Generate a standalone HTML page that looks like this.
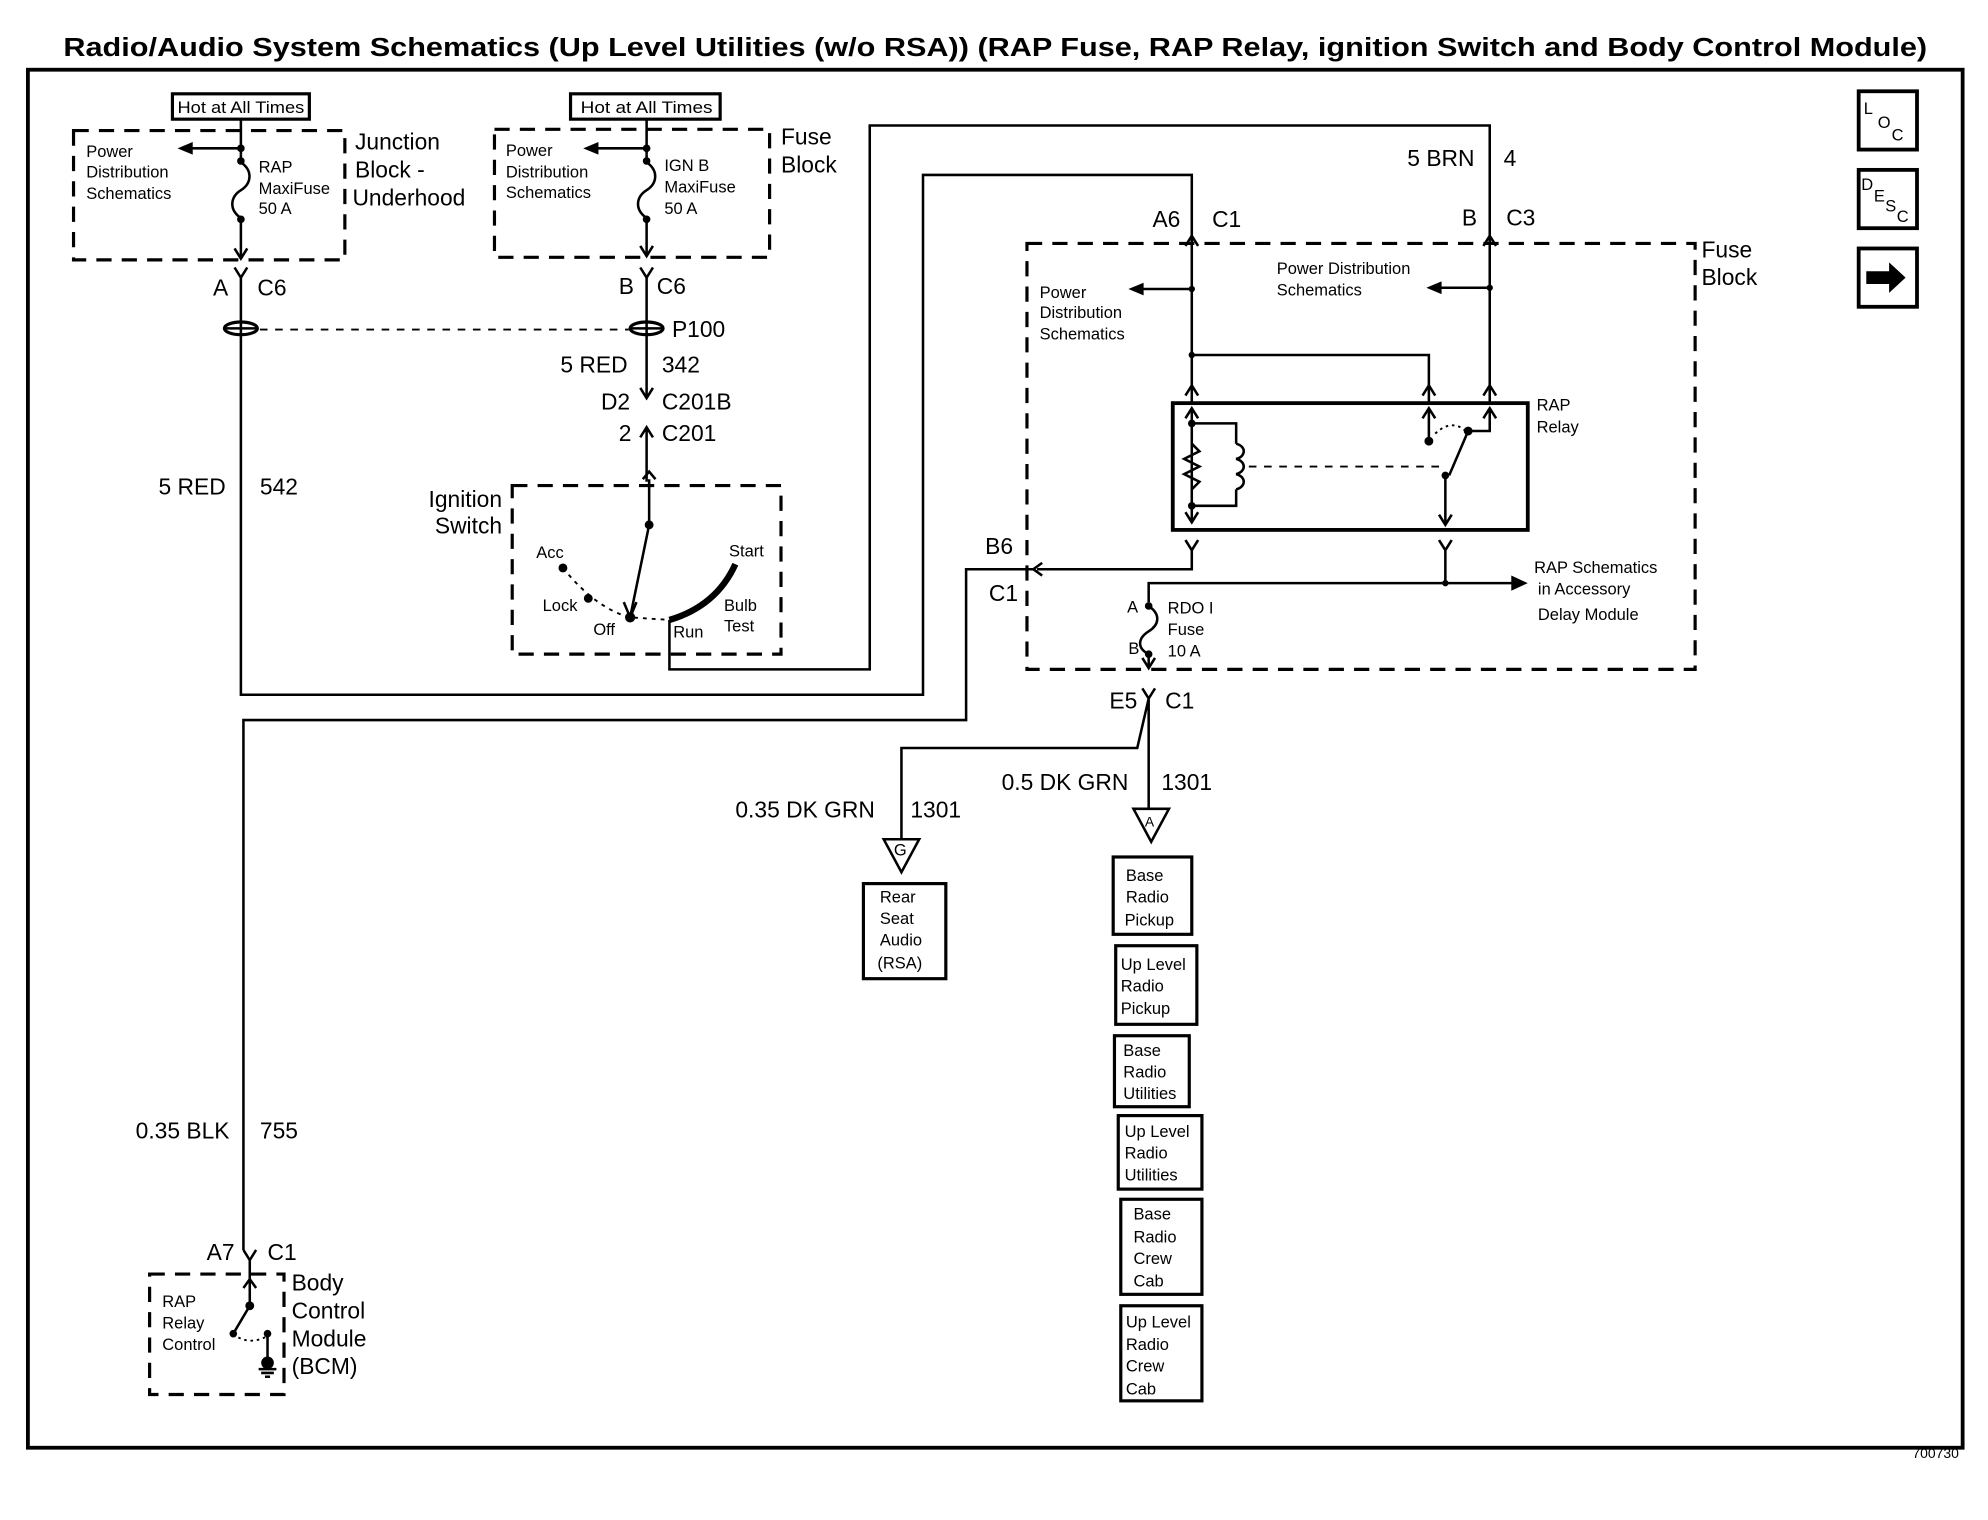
<!DOCTYPE html>
<html><head><meta charset="utf-8"><style>
html,body{margin:0;padding:0;background:#fff;}
svg{display:block;}
text{font-family:"Liberation Sans",Arial,sans-serif;fill:#000;}
.s{font-size:13px;}
.m{font-size:18px;}
.l{font-size:19px;}
</style></head><body>
<svg width="1988" height="1520" viewBox="0 0 1568 1199" preserveAspectRatio="none" xmlns="http://www.w3.org/2000/svg">
<g fill="none" stroke="#000" stroke-width="2">
<!-- frame -->
<rect x="22" y="55" width="1526" height="1087" stroke-width="3"/>
<!-- dashed boxes -->
<g stroke-dasharray="12,8" stroke-width="2.5">
<rect x="58" y="103" width="214" height="102"/>
<rect x="390" y="102" width="217" height="101"/>
<rect x="404" y="383" width="212" height="133"/>
<rect x="810" y="192" width="527" height="336"/>
<rect x="118" y="1005" width="106" height="95"/>
</g>
<!-- hot boxes -->
<rect x="136" y="74" width="108" height="20" stroke-width="2.5"/>
<rect x="450" y="74" width="118" height="20" stroke-width="2.5"/>
<!-- left fuse wiring -->
<path d="M190 94 V122 M190 117 H150"/>
<path d="M190 122 V128 C200 135 198 145 190 150 C182 155 180 165 190 172 V203"/>
<path d="M185 196 L190 204 L195 196"/>
<path d="M510 94 V122 M510 117 H470"/>
<path d="M510 122 V128 C520 135 518 145 510 150 C502 155 500 165 510 172 V201"/>
<path d="M505 194 L510 202 L515 194"/>
<!-- connectors C6 -->
<path d="M185 211 L190 219 L195 211 M190 219 V548 H728 V138 H940 V186"/>
<path d="M505 211 L510 219 L515 211 M510 219 V313"/>
<!-- splices -->
<ellipse cx="190" cy="259" rx="13" ry="5" stroke-width="2.5"/>
<path d="M178 259 H202" />
<ellipse cx="510" cy="259" rx="13" ry="5" stroke-width="2.5"/>
<path d="M498 259 H522"/>
<path d="M205 260 H496" stroke-dasharray="6,6" stroke-width="1.5"/>
<!-- C201 -->
<path d="M505 306 L510 314 L515 306 M505 345 L510 337 L515 345 M510 337 V380"/>
<path d="M507 378 L512 372 L517 378 M512 378 V414 L497 487"/>
<path d="M492 475 L497 487 L502 475" />
<path d="M444 448 Q470 480 497 487 L528 489" stroke-dasharray="3,4" stroke-width="1.5"/>
<path d="M528 489 Q565 478 580 445" stroke-width="5"/>
<path d="M528 489 V528 H686 V99 H1175 V186"/>
<!-- Fuse block internals -->
<path d="M935 194 L940 186 L945 194 M1170 194 L1175 186 L1180 194"/>
<path d="M940 186 V318 M940 228 H900 M1175 186 V318 M1175 227 H1135"/>
<path d="M940 280 H1127 V318"/>
<path d="M935 312 L940 304 L945 312 M1122 312 L1127 304 L1132 312 M1170 312 L1175 304 L1180 312"/>
<rect x="925" y="318" width="280" height="100" stroke-width="3"/>
<path d="M935 330 L940 322 L945 330 M1122 330 L1127 322 L1132 330 M1170 330 L1175 322 L1180 330"/>
<path d="M940 322 V412 M940 334 H975 V350 M975 386 V399 H940"/>
<path d="M940 350 L946 356 L934 362 L946 368 L934 374 L946 380 L940 386"/>
<path d="M975 350 C983 352 983 360 975 362 C983 364 983 372 975 374 C983 376 983 384 975 386"/>
<path d="M935 404 L940 412 L945 404"/>
<path d="M985 368 H1138" stroke-dasharray="6,6" stroke-width="1.5"/>
<path d="M1127 322 V348 M1175 322 V340 H1158 M1158 340 L1143 375 M1140 375 V414"/>
<path d="M1135 406 L1140 414 L1145 406"/>
<path d="M1132 342 Q1145 330 1156 340" stroke-dasharray="2,3" stroke-width="1.5"/>
<path d="M935 426 L940 434 L945 426 M940 434 V449 H818"/>
<path d="M1135 426 L1140 434 L1145 426 M1140 434 V460"/>
<path d="M906 475 V460 H1195"/>
<path d="M906 478 C916 485 914 493 906 498 C898 503 896 511 906 516 V526 M901 519 L906 527 L911 519"/>
<path d="M822 444 L815 449 L822 454 M815 449 H762 V568 H192 V986"/>
<!-- E5 -->
<path d="M901 543 L906 551 L911 543 M906 551 V638 M906 551 L897 590 H711 V662"/>
<path d="M697 662 H725 L711 688 Z" stroke-width="2"/>
<path d="M894 638 H922 L908 664 Z" stroke-width="2"/>
<!-- destination boxes -->
<g stroke-width="2.5">
<rect x="681" y="697" width="65" height="75"/>
<rect x="878" y="676" width="62" height="61"/>
<rect x="880" y="746" width="64" height="62"/>
<rect x="879" y="817" width="59" height="56"/>
<rect x="882" y="880" width="66" height="58"/>
<rect x="884" y="946" width="64" height="75"/>
<rect x="884" y="1030" width="64" height="75"/>
</g>
<!-- BCM -->
<path d="M192 986 L197 994 L202 986 M197 994 V1010 M192 1016 L197 1009 L202 1016 M197 1009 V1030 L184 1052"/>
<path d="M184 1052 Q195 1062 211 1054" stroke-dasharray="2,3" stroke-width="1.5"/>
<path d="M211 1052 V1072 M204 1080 H218 M206 1083 H216 M209 1086 H213"/>
<!-- icons -->
<rect x="1466" y="72" width="46" height="46" stroke-width="3"/>
<rect x="1466" y="134" width="46" height="46" stroke-width="3"/>
<rect x="1466" y="196" width="46" height="46" stroke-width="3"/>
</g>
<g fill="#000">
<path d="M140 117 L152 112 L152 122 Z"/>
<path d="M460 117 L472 112 L472 122 Z"/>
<path d="M890 228 L902 223 L902 233 Z"/>
<path d="M1125 227 L1137 222 L1137 232 Z"/>
<path d="M1205 460 L1192 454 L1192 466 Z"/>
<circle cx="190" cy="117" r="3"/><circle cx="190" cy="127" r="3"/><circle cx="190" cy="173" r="3"/>
<circle cx="510" cy="117" r="3"/><circle cx="510" cy="127" r="3"/><circle cx="510" cy="173" r="3"/>
<circle cx="512" cy="414" r="3.5"/><circle cx="497" cy="487" r="4"/><circle cx="444" cy="448" r="3.5"/><circle cx="464" cy="472" r="3.5"/>
<circle cx="940" cy="228" r="2.5"/><circle cx="1175" cy="227" r="2.5"/><circle cx="940" cy="280" r="2.5"/>
<circle cx="940" cy="334" r="3"/><circle cx="940" cy="399" r="3"/><circle cx="1127" cy="348" r="3.5"/><circle cx="1158" cy="340" r="3.5"/><circle cx="1140" cy="375" r="3"/><circle cx="1140" cy="460" r="2.5"/>
<circle cx="906" cy="478" r="3"/><circle cx="906" cy="516" r="3"/>
<circle cx="197" cy="1030" r="3.5"/><circle cx="184" cy="1052" r="3"/><circle cx="211" cy="1052" r="3"/><circle cx="211" cy="1075" r="5"/>
<path d="M1472 214 H1490 V207 L1503 219 L1490 231 V224 H1472 Z"/>
</g>
<text x="50" y="44" style="font-size:20.5px;font-weight:bold" textLength="1470" lengthAdjust="spacingAndGlyphs">Radio/Audio System Schematics (Up Level Utilities (w/o RSA)) (RAP Fuse, RAP Relay, ignition Switch and Body Control Module)</text>
<text x="1545" y="1150" style="font-size:11px" text-anchor="end">700730</text>
<text x="140" y="89" class="s" textLength="100" lengthAdjust="spacingAndGlyphs">Hot at All Times</text>
<text x="458" y="89" class="s" textLength="104" lengthAdjust="spacingAndGlyphs">Hot at All Times</text>
<g class="s">
<text x="68" y="124">Power</text><text x="68" y="140">Distribution</text><text x="68" y="157">Schematics</text>
<text x="204" y="136">RAP</text><text x="204" y="153">MaxiFuse</text><text x="204" y="169">50 A</text>
<text x="399" y="123">Power</text><text x="399" y="140">Distribution</text><text x="399" y="156">Schematics</text>
<text x="524" y="135">IGN B</text><text x="524" y="152">MaxiFuse</text><text x="524" y="169">50 A</text>
<text x="423" y="440">Acc</text><text x="428" y="482">Lock</text><text x="468" y="501">Off</text><text x="531" y="503">Run</text>
<text x="575" y="439">Start</text><text x="571" y="482">Bulb</text><text x="571" y="498">Test</text>
<text x="820" y="235">Power</text><text x="820" y="251">Distribution</text><text x="820" y="268">Schematics</text>
<text x="1007" y="216">Power Distribution</text><text x="1007" y="233">Schematics</text>
<text x="1212" y="324">RAP</text><text x="1212" y="341">Relay</text>
<text x="1210" y="452">RAP Schematics</text><text x="1213" y="469">in Accessory</text><text x="1213" y="489">Delay  Module</text>
<text x="889" y="483">A</text><text x="890" y="516">B</text>
<text x="921" y="484">RDO I</text><text x="921" y="501">Fuse</text><text x="921" y="518">10 A</text>
<text x="694" y="712">Rear</text><text x="694" y="729">Seat</text><text x="694" y="746">Audio</text><text x="692" y="764">(RSA)</text>
<text x="888" y="695">Base</text><text x="888" y="712">Radio</text><text x="887" y="730">Pickup</text>
<text x="884" y="765">Up Level</text><text x="884" y="782">Radio</text><text x="884" y="800">Pickup</text>
<text x="886" y="833">Base</text><text x="886" y="850">Radio</text><text x="886" y="867">Utilities</text>
<text x="887" y="897">Up Level</text><text x="887" y="914">Radio</text><text x="887" y="931">Utilities</text>
<text x="894" y="962">Base</text><text x="894" y="980">Radio</text><text x="894" y="997">Crew</text><text x="894" y="1015">Cab</text>
<text x="888" y="1047">Up Level</text><text x="888" y="1065">Radio</text><text x="888" y="1082">Crew</text><text x="888" y="1100">Cab</text>
<text x="128" y="1031">RAP</text><text x="128" y="1048">Relay</text><text x="128" y="1065">Control</text>
<text x="705" y="675">G</text><text x="903" y="652" style="font-size:11px">A</text>
</g>
<g class="m">
<text x="280" y="118">Junction</text><text x="280" y="140">Block -</text><text x="278" y="162">Underhood</text>
<text x="616" y="114">Fuse</text><text x="616" y="136">Block</text>
<text x="1342" y="203">Fuse</text><text x="1342" y="225">Block</text>
<text x="396" y="400" text-anchor="end">Ignition</text><text x="396" y="421" text-anchor="end">Switch</text>
<text x="230" y="1018">Body</text><text x="230" y="1040">Control</text><text x="230" y="1062">Module</text><text x="230" y="1084">(BCM)</text>
</g>
<g class="m">
<text x="168" y="233">A</text><text x="203" y="233">C6</text>
<text x="488" y="232">B</text><text x="518" y="232">C6</text>
<text x="530" y="266">P100</text>
<text x="442" y="294">5 RED</text><text x="522" y="294">342</text>
<text x="474" y="323">D2</text><text x="522" y="323">C201B</text>
<text x="488" y="348">2</text><text x="522" y="348">C201</text>
<text x="125" y="390">5 RED</text><text x="205" y="390">542</text>
<text x="1110" y="131">5 BRN</text><text x="1186" y="131">4</text>
<text x="909" y="179">A6</text><text x="956" y="179">C1</text>
<text x="1153" y="178">B</text><text x="1188" y="178">C3</text>
<text x="777" y="437">B6</text><text x="780" y="474">C1</text>
<text x="875" y="559">E5</text><text x="919" y="559">C1</text>
<text x="790" y="623">0.5 DK GRN</text><text x="916" y="623">1301</text>
<text x="580" y="645">0.35 DK GRN</text><text x="718" y="645">1301</text>
<text x="107" y="898">0.35 BLK</text><text x="205" y="898">755</text>
<text x="163" y="994">A7</text><text x="211" y="994">C1</text>
</g>
<g style="font-size:13px">
<text x="1470" y="90">L</text><text x="1481" y="101">O</text><text x="1492" y="111">C</text>
<text x="1468" y="150">D</text><text x="1478" y="159">E</text><text x="1487" y="167">S</text><text x="1496" y="175">C</text>
</g>
</svg>
</body></html>
